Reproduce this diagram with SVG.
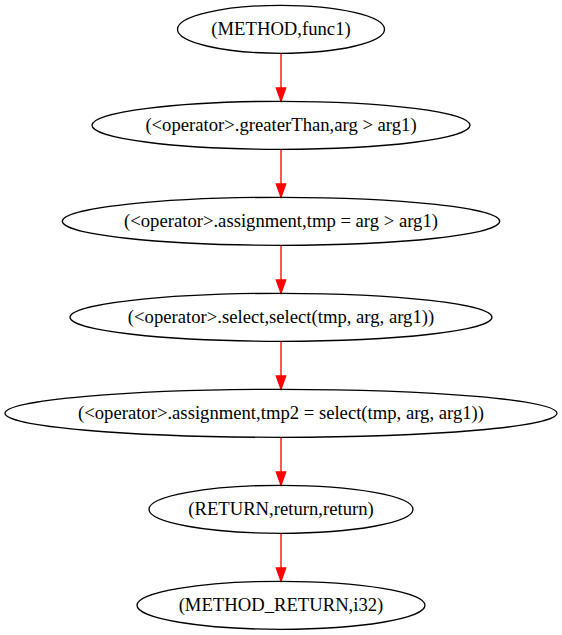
<svg xmlns="http://www.w3.org/2000/svg" width="562" height="635" viewBox="0 0 562 635">
<style>
.n ellipse{fill:none;stroke:#000;stroke-width:1.33}
.n text{font-family:"Liberation Serif","Times New Roman",serif;font-size:18.67px;text-anchor:middle;fill:#000}
.e line{stroke:#ff0000;stroke-width:1.33}
.e polygon{fill:#ff0000;stroke:#ff0000;stroke-width:1.33}
</style>
<rect width="562" height="635" fill="#fff"/>
<g id="connectors" class="e">
<line x1="281" y1="53.3" x2="281" y2="88"/><polygon points="276.3,88 285.7,88 281,101.3"/>
<line x1="281" y1="149.3" x2="281" y2="184"/><polygon points="276.3,184 285.7,184 281,197.3"/>
<line x1="281" y1="245.3" x2="281" y2="280"/><polygon points="276.3,280 285.7,280 281,293.3"/>
<line x1="281" y1="341.3" x2="281" y2="376"/><polygon points="276.3,376 285.7,376 281,389.3"/>
<line x1="281" y1="437.3" x2="281" y2="472"/><polygon points="276.3,472 285.7,472 281,485.3"/>
<line x1="281" y1="533.3" x2="281" y2="568"/><polygon points="276.3,568 285.7,568 281,581.3"/>
</g>
<g id="n1" class="n"><ellipse cx="281" cy="29.3" rx="103.5" ry="24"/><text x="281" y="35.3">(METHOD,func1)</text></g>
<g id="n2" class="n"><ellipse cx="281" cy="125.3" rx="189" ry="24"/><text x="281" y="131.3">(&lt;operator&gt;.greaterThan,arg &gt; arg1)</text></g>
<g id="n3" class="n"><ellipse cx="281" cy="221.3" rx="218.7" ry="24"/><text x="281" y="227.3">(&lt;operator&gt;.assignment,tmp = arg &gt; arg1)</text></g>
<g id="n4" class="n"><ellipse cx="281" cy="317.3" rx="211" ry="24"/><text x="281" y="323.3">(&lt;operator&gt;.select,select(tmp, arg, arg1))</text></g>
<g id="n5" class="n"><ellipse cx="281" cy="413.3" rx="276" ry="24"/><text x="281" y="419.3">(&lt;operator&gt;.assignment,tmp2 = select(tmp, arg, arg1))</text></g>
<g id="n6" class="n"><ellipse cx="281" cy="509.3" rx="132" ry="24"/><text x="281" y="515.3">(RETURN,return,return)</text></g>
<g id="n7" class="n"><ellipse cx="281" cy="605.3" rx="144" ry="24"/><text x="281" y="611.3">(METHOD_RETURN,i32)</text></g>
</svg>
